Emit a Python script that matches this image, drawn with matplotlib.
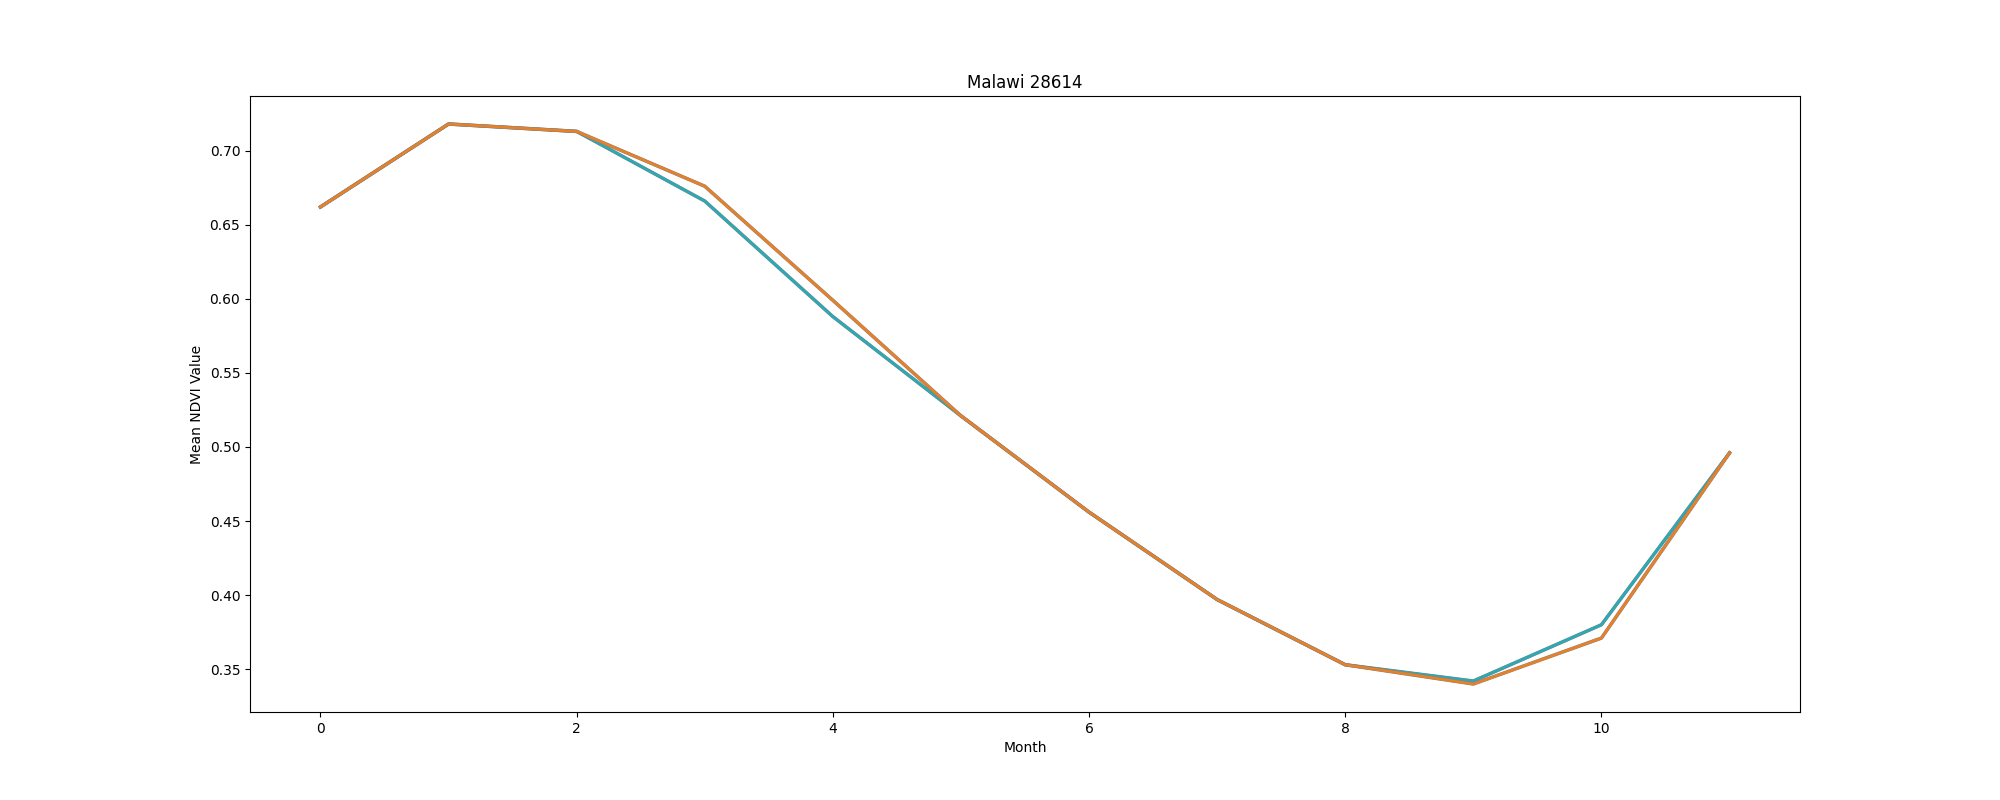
import matplotlib.pyplot as plt

months = list(range(12))
ndvi_a = [0.662, 0.718, 0.713, 0.666, 0.588, 0.521, 0.456, 0.397, 0.353, 0.342, 0.380, 0.496]
ndvi_b = [0.662, 0.718, 0.713, 0.676, 0.599, 0.521, 0.456, 0.397, 0.353, 0.340, 0.371, 0.496]

fig, ax = plt.subplots(figsize=(20, 8), dpi=100)
ax.plot(months, ndvi_a, color="tab:gray", lw=2.5)
ax.plot(months, ndvi_a, color="#2ca9b5", lw=2)
ax.plot(months, ndvi_b, color="tab:gray", lw=2.5)
ax.plot(months, ndvi_b, color="#e6812b", lw=2)
ax.set_title("Malawi 28614")
ax.set_xlabel("Month")
ax.set_ylabel("Mean NDVI Value")
plt.savefig("out.png")
